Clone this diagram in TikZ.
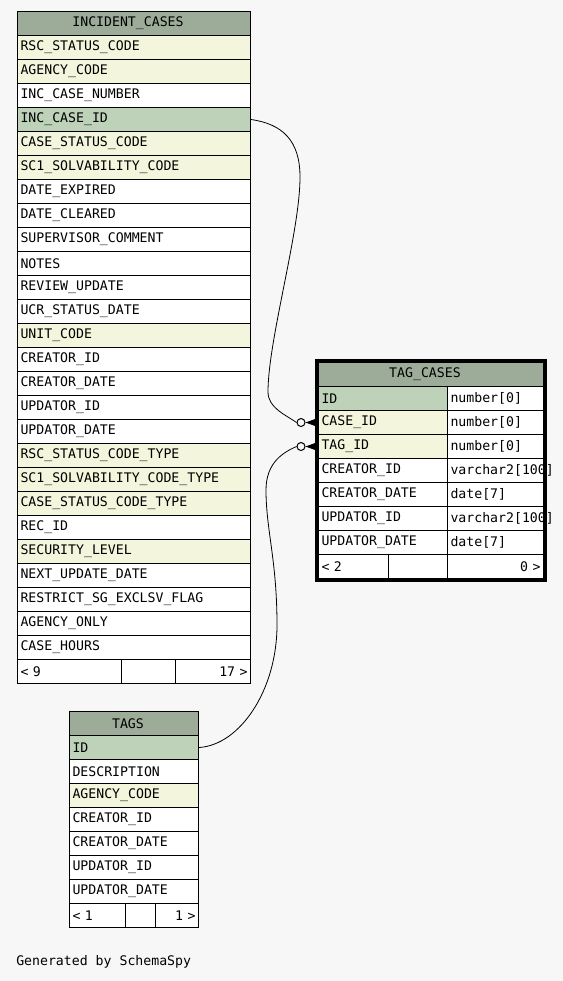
\documentclass[tikz,border=0pt]{standalone}
\usepackage{fontspec}
\newfontfamily\ermono{DejaVu Sans Mono}
\newcommand{\erfont}{\ermono\fontsize{9.9pt}{12pt}\selectfont}
\definecolor{bgc}{HTML}{F7F7F7}
\definecolor{hdrc}{HTML}{9CAC98}
\definecolor{pkc}{HTML}{BED1B9}
\definecolor{fkc}{HTML}{F3F6DC}

\begin{document}
\begin{tikzpicture}[x=0.75pt,y=-0.75pt,
  head/.style={draw, line width=0.75pt, fill=hdrc, anchor=north west, minimum height=18pt, inner sep=0pt, font=\erfont, execute at end node={\hspace{9pt}}},
  cell/.style={draw, line width=0.75pt, fill=white, anchor=north west, minimum height=18pt, inner xsep=2.25pt, inner ysep=0pt, text width=#1, align=left, font=\erfont},
  rcell/.style={cell=#1, align=right},
  pk/.style={fill=pkc},
  fk/.style={fill=fkc},
  ring/.style={circle, draw, line width=0.75pt, fill=bgc, minimum size=6pt, inner sep=0pt},
  link/.style={line width=0.6pt}]
\fill[bgc] (0,0) rectangle (563,981);
\useasboundingbox (0,0) rectangle (563,981);

% INCIDENT_CASES
\node[head, minimum width=174.75pt] (ic) at (17,11) {INCIDENT\_CASES};
\node[cell=170.25pt, fk] (ic-1) at (17,35) {RSC\_STATUS\_CODE};
\node[cell=170.25pt, fk] (ic-2) at (17,59) {AGENCY\_CODE};
\node[cell=170.25pt] (ic-3) at (17,83) {INC\_CASE\_NUMBER};
\node[cell=170.25pt, pk] (ic-4) at (17,107) {INC\_CASE\_ID};
\node[cell=170.25pt, fk] (ic-5) at (17,131) {CASE\_STATUS\_CODE};
\node[cell=170.25pt, fk] (ic-6) at (17,155) {SC1\_SOLVABILITY\_CODE};
\node[cell=170.25pt] (ic-7) at (17,179) {DATE\_EXPIRED};
\node[cell=170.25pt] (ic-8) at (17,203) {DATE\_CLEARED};
\node[cell=170.25pt] (ic-9) at (17,227) {SUPERVISOR\_COMMENT};
\node[cell=170.25pt] (ic-10) at (17,251) {NOTES};
\node[cell=170.25pt] (ic-11) at (17,275) {REVIEW\_UPDATE};
\node[cell=170.25pt] (ic-12) at (17,299) {UCR\_STATUS\_DATE};
\node[cell=170.25pt, fk] (ic-13) at (17,323) {UNIT\_CODE};
\node[cell=170.25pt] (ic-14) at (17,347) {CREATOR\_ID};
\node[cell=170.25pt] (ic-15) at (17,371) {CREATOR\_DATE};
\node[cell=170.25pt] (ic-16) at (17,395) {UPDATOR\_ID};
\node[cell=170.25pt] (ic-17) at (17,419) {UPDATOR\_DATE};
\node[cell=170.25pt, fk] (ic-18) at (17,443) {RSC\_STATUS\_CODE\_TYPE};
\node[cell=170.25pt, fk] (ic-19) at (17,467) {SC1\_SOLVABILITY\_CODE\_TYPE};
\node[cell=170.25pt, fk] (ic-20) at (17,491) {CASE\_STATUS\_CODE\_TYPE};
\node[cell=170.25pt] (ic-21) at (17,515) {REC\_ID};
\node[cell=170.25pt, fk] (ic-22) at (17,539) {SECURITY\_LEVEL};
\node[cell=170.25pt] (ic-23) at (17,563) {NEXT\_UPDATE\_DATE};
\node[cell=170.25pt] (ic-24) at (17,587) {RESTRICT\_SG\_EXCLSV\_FLAG};
\node[cell=170.25pt] (ic-25) at (17,611) {AGENCY\_ONLY};
\node[cell=170.25pt] (ic-26) at (17,635) {CASE\_HOURS};
\node[cell=73.5pt] (ic-f1) at (17,659) {< 9};
\node[cell=36pt] (ic-f2) at (121,659) {};
\node[rcell=51.75pt] (ic-f3) at (175,659) {17 >};

% TAGS
\node[head, minimum width=96.75pt] (tg) at (69,711) {TAGS};
\node[cell=92.25pt, pk] (tg-1) at (69,735) {ID};
\node[cell=92.25pt] (tg-2) at (69,759) {DESCRIPTION};
\node[cell=92.25pt, fk] (tg-3) at (69,783) {AGENCY\_CODE};
\node[cell=92.25pt] (tg-4) at (69,807) {CREATOR\_ID};
\node[cell=92.25pt] (tg-5) at (69,831) {CREATOR\_DATE};
\node[cell=92.25pt] (tg-6) at (69,855) {UPDATOR\_ID};
\node[cell=92.25pt] (tg-7) at (69,879) {UPDATOR\_DATE};
\node[cell=37.5pt] (tg-f1) at (69,903) {< 1};
\node[cell=18pt] (tg-f2) at (125,903) {};
\node[rcell=27.75pt] (tg-f3) at (155,903) {1 >};

% TAG_CASES
\node[head, minimum width=168.75pt] (tc) at (318,362) {TAG\_CASES};
\node[cell=92.25pt, pk] (tc-1) at (318,386) {ID};
\node[cell=92.25pt, fk] (tc-2) at (318,410) {CASE\_ID};
\node[cell=92.25pt, fk] (tc-3) at (318,434) {TAG\_ID};
\node[cell=92.25pt] (tc-4) at (318,458) {CREATOR\_ID};
\node[cell=92.25pt] (tc-5) at (318,482) {CREATOR\_DATE};
\node[cell=92.25pt] (tc-6) at (318,506) {UPDATOR\_ID};
\node[cell=92.25pt] (tc-7) at (318,530) {UPDATOR\_DATE};
\node[cell=67.5pt] (tt-1) at (447,386) {number[0]};
\node[cell=67.5pt] (tt-2) at (447,410) {number[0]};
\node[cell=67.5pt] (tt-3) at (447,434) {number[0]};
\node[cell=67.5pt] (tt-4) at (447,458) {varchar2[100]};
\node[cell=67.5pt] (tt-5) at (447,482) {date[7]};
\node[cell=67.5pt] (tt-6) at (447,506) {varchar2[100]};
\node[cell=67.5pt] (tt-7) at (447,530) {date[7]};
\node[cell=48pt] (tc-f1) at (318,554) {< 2};
\node[cell=39.75pt] (tc-f2) at (388,554) {};
\node[rcell=67.5pt] (tc-f3) at (447,554) {0 >};
\draw[line width=2.25pt] ([shift={(-1.5,-1.5)}]tc.north west) rectangle ([shift={(1.5,1.5)}]tc-f3.south east);

\node[ring] (r1) at ([xshift=-12.75pt]tc-2.west) {};
\node[ring] (r2) at ([xshift=-12.75pt]tc-3.west) {};

\draw[link] (ic-4.east) .. controls (282,124) and (300,140) .. (300,177)
  .. controls (300,232) and (268,340) .. (268,392)
  .. controls (268,408) and (286,415) .. (r1.west);
\draw[link] (tg-1.east) .. controls (240,745) and (277,690) .. (277,625)
  .. controls (277,560) and (266,530) .. (266,490)
  .. controls (266,462) and (284,452) .. (r2.west);

\draw[link] (r1.east) -- (r1.east -| tc-2.west);
\fill (r1.east) -- ++(11,-4) -- ++(0,8) -- cycle;
\draw[link] (r2.east) -- (r2.east -| tc-3.west);
\fill (r2.east) -- ++(11,-4) -- ++(0,8) -- cycle;

\node[anchor=west, inner sep=0pt, font=\erfont] (gen) at (16,962) {Generated by SchemaSpy};
\end{tikzpicture}
\end{document}
